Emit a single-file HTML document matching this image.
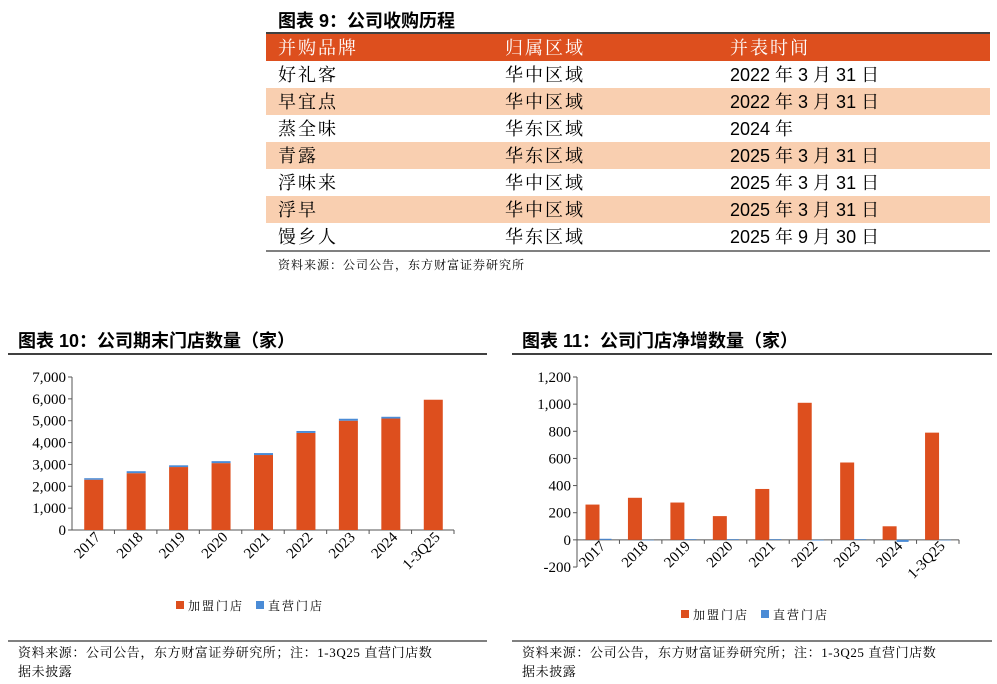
<!DOCTYPE html>
<html><head><meta charset="utf-8"><style>
body{margin:0;width:997px;height:684px;background:#fff;position:relative;overflow:hidden;font-family:"Liberation Serif","Noto Serif CJK SC",serif}
</style></head><body>
<svg width="997" height="684" style="position:absolute;left:0;top:0">
<g font-family="'Liberation Sans','Noto Serif CJK SC',serif">
<text x="278" y="27" font-size="18" font-weight="bold" font-family="'Liberation Sans','Noto Sans CJK SC',sans-serif">图表 9：公司收购历程</text>
<line x1="266" y1="33" x2="990" y2="33" stroke="#000" stroke-width="1.5"/>
<rect x="266" y="34" width="724" height="27" fill="#dd4f1e"/>
<g font-size="18" letter-spacing="2">
<text x="278" y="54" fill="#fff">并购品牌</text>
<text x="505" y="54" fill="#fff">归属区域</text>
<text x="730" y="54" fill="#fff">并表时间</text>
</g>
<rect x="266" y="88" width="724" height="27" fill="#f9cfb0"/>
<rect x="266" y="142" width="724" height="27" fill="#f9cfb0"/>
<rect x="266" y="196" width="724" height="27" fill="#f9cfb0"/>
<g font-size="18" letter-spacing="2">
<text x="278" y="81">好礼客</text><text x="505" y="81">华中区域</text>
<text x="278" y="108">早宜点</text><text x="505" y="108">华中区域</text>
<text x="278" y="135">蒸全味</text><text x="505" y="135">华东区域</text>
<text x="278" y="162">青露</text><text x="505" y="162">华东区域</text>
<text x="278" y="189">浮味来</text><text x="505" y="189">华中区域</text>
<text x="278" y="216">浮早</text><text x="505" y="216">华中区域</text>
<text x="278" y="243">馒乡人</text><text x="505" y="243">华东区域</text>
</g>
<g font-size="18">
<text x="730" y="81">2022 年 3 月 31 日</text>
<text x="730" y="108">2022 年 3 月 31 日</text>
<text x="730" y="135">2024 年</text>
<text x="730" y="162">2025  年 3 月 31 日</text>
<text x="730" y="189">2025  年 3 月 31 日</text>
<text x="730" y="216">2025  年 3 月 31 日</text>
<text x="730" y="243">2025 年 9 月 30 日</text>
</g>
<line x1="266" y1="251" x2="990" y2="251" stroke="#000" stroke-width="1"/>
<text x="278" y="269" font-size="12" letter-spacing="1">资料来源：公司公告，东方财富证券研究所</text>
</g>
<g font-family="'Liberation Sans','Noto Sans CJK SC',sans-serif" font-weight="bold" font-size="18">
<text x="18" y="347">图表 10：公司期末门店数量（家）</text>
<text x="522" y="347">图表 11：公司门店净增数量（家）</text>
</g>
<line x1="8" y1="354" x2="487" y2="354" stroke="#000" stroke-width="1.5"/>
<line x1="512" y1="354" x2="992" y2="354" stroke="#000" stroke-width="1.5"/>
<g id="c1"></g>
<g id="c2"></g>
<line x1="8" y1="641" x2="487" y2="641" stroke="#000" stroke-width="1"/>
<line x1="512" y1="641" x2="992" y2="641" stroke="#000" stroke-width="1"/>
<g font-size="13" letter-spacing="0.6">
<text x="18" y="657">资料来源：公司公告，东方财富证券研究所；注：1-3Q25 直营门店数</text>
<text x="18" y="676">据未披露</text>
<text x="522" y="657">资料来源：公司公告，东方财富证券研究所；注：1-3Q25 直营门店数</text>
<text x="522" y="676">据未披露</text>
</g>
</svg>
<script>
const categories=["2017","2018","2019","2020","2021","2022","2023","2024","1-3Q25"];
const franchise=[2300,2600,2880,3060,3430,4440,5000,5100,5960];
const direct=[70,90,80,90,90,90,90,80,0];
const netFranchise=[260,310,275,175,375,1010,570,100,790];
const netDirect=[8,0,5,5,5,-5,5,-15,0];
const ticks1=[0,1000,2000,3000,4000,5000,6000,7000];
const ticks2=[-200,0,200,400,600,800,1000,1200];
const NS="http://www.w3.org/2000/svg";
const ORG="#dd4f1e",BLU="#4a8bd6";
function mk(p,tag,a,txt){const e=document.createElementNS(NS,tag);for(const k in a)e.setAttribute(k,a[k]);if(txt!=null)e.textContent=txt;p.appendChild(e);return e;}
function axes(g,x0,x1,yT,yB,vmin,vmax,ticks,labY){
  const y=v=>yB-(v-vmin)/(vmax-vmin)*(yB-yT);
  const line=mk(g,'line',{x1:x0,y1:yT,x2:x0,y2:yB,stroke:'#555'});
  
  
  ticks.forEach(t=>{mk(g,'line',{x1:x0-4,y1:y(t),x2:x0,y2:y(t),stroke:'#555'});
    const tl=mk(g,'text',{x:x0-6,y:y(t)+5,'text-anchor':'end','font-size':15,'font-family':'Liberation Serif'},t.toLocaleString('en-US'));
    
    });
  const xa=mk(g,'line',{x1:x0,y1:y(0),x2:x1,y2:y(0),stroke:'#555'});
  
  
  const w=(x1-x0)/categories.length;
  categories.forEach((c,i)=>{mk(g,'line',{x1:x0+w*(i+1),y1:y(0),x2:x0+w*(i+1),y2:y(0)+4,stroke:'#555'});
    const cx=x0+w*i+w/2+8;
    const tl=mk(g,'text',{x:cx,y:labY,'text-anchor':'end','font-size':15,'font-family':'Liberation Serif',transform:`rotate(-45 ${cx} ${labY})`},c);
    
    });
  return {y,w};
}
function legend(g,x,yy){
  mk(g,'rect',{x:x,y:yy-9,width:8,height:8,fill:ORG});
  const a=mk(g,'text',{x:x+12,y:yy,'font-size':12,'letter-spacing':2},'加盟门店');
  
  
  mk(g,'rect',{x:x+80,y:yy-9,width:8,height:8,fill:BLU});
  const b=mk(g,'text',{x:x+92,y:yy,'font-size':12,'letter-spacing':2},'直营门店');
  
  
}
(function(){const g=document.getElementById('c1');
 const A=axes(g,72,454,377,530,0,7000,ticks1,538);
 categories.forEach((c,i)=>{const bx=72+A.w*i+A.w/2-9;
  const r=mk(g,'rect',{x:bx,y:A.y(franchise[i]),width:19,height:A.y(0)-A.y(franchise[i]),fill:ORG});
  
  
  const d=mk(g,'rect',{x:bx,y:A.y(franchise[i]+direct[i]),width:19,height:A.y(franchise[i])-A.y(franchise[i]+direct[i]),fill:BLU});
  
  });
 legend(g,176,610);
})();
(function(){const g=document.getElementById('c2');
 const A=axes(g,577,959,377,567,-200,1200,ticks2,547);
 categories.forEach((c,i)=>{const bx=577+A.w*i+8.5;
  const v=netFranchise[i],dv=netDirect[i];
  const r=mk(g,'rect',{x:bx,y:Math.min(A.y(v),A.y(0)),width:14,height:Math.abs(A.y(0)-A.y(v)),fill:ORG});
  
  
  const d=mk(g,'rect',{x:bx+14,y:Math.min(A.y(dv),A.y(0)),width:12,height:Math.max(Math.abs(A.y(0)-A.y(dv)),0.5),fill:BLU});
  
  });
 legend(g,681,619);
})();
</script>
</body></html>
